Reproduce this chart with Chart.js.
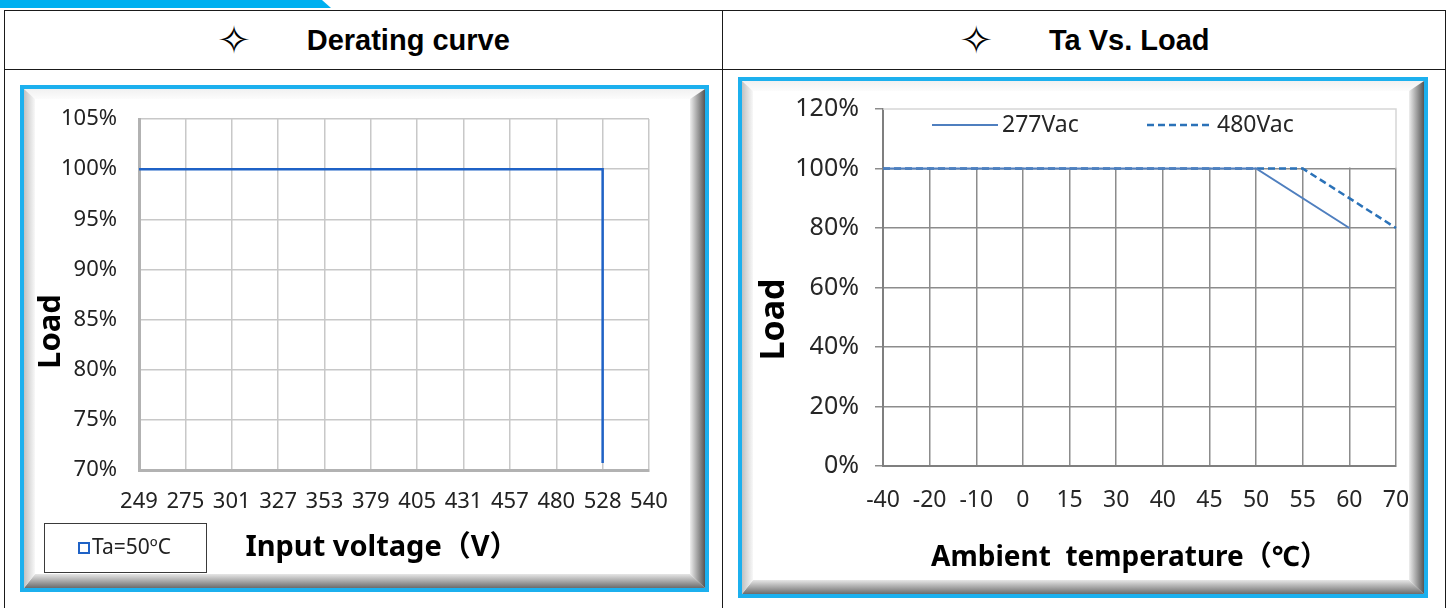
<!DOCTYPE html>
<html>
<head>
<meta charset="utf-8">
<script src="https://cdn.jsdelivr.net/npm/chart.js@4.4.0/dist/chart.umd.min.js"></script>
<style>
  html, body { margin: 0; padding: 0; background: #fff; }
  body { width: 1450px; height: 608px; position: relative; overflow: hidden; font-family: "Liberation Sans", Arial, sans-serif; }
  .tab { position: absolute; left: 0; top: 0; width: 331px; height: 8px; background: #00b0f0; clip-path: polygon(0 0, 322px 0, 331px 8px, 0 8px); }
  .tbl { position: absolute; left: 4px; top: 10px; width: 1442px; height: 640px; border: 1.5px solid #1a1a1a; box-sizing: border-box; }
  .hline { position: absolute; left: 4px; top: 69px; width: 1442px; border-top: 1.5px solid #1a1a1a; }
  .vline { position: absolute; left: 722px; top: 10px; height: 640px; border-left: 1.5px solid #1a1a1a; }
  .head { position: absolute; top: 11px; height: 58px; display: flex; align-items: center; justify-content: center; font-weight: bold; font-size: 29px; color: #000; }
  .head .star { font-family: "DejaVu Sans", sans-serif; font-weight: normal; font-size: 40px; line-height: 42px; margin-right: 56px; }
  .frame { position: absolute; border: 4px solid #1cb0ee; box-sizing: border-box; background: #fff; }
  .bev { position: absolute; }
  .bev.top { left: 0; top: 0; right: 0; height: 10px; background: linear-gradient(to bottom, #f1f1f1, #fcfcfc); clip-path: polygon(0 0, 100% 0, calc(100% - 15px) 100%, 11px 100%); }
  .bev.bottom { left: 0; bottom: 0; right: 0; height: 14px; background: linear-gradient(to bottom, #e6e6e6, #6c6c6c); clip-path: polygon(11px 0, calc(100% - 15px) 0, 100% 100%, 0 100%); }
  .bev.left { left: 0; top: 0; bottom: 0; width: 11px; background: linear-gradient(to right, #c2c2c2, #f8f8f8); clip-path: polygon(0 0, 100% 10px, 100% calc(100% - 14px), 0 100%); }
  .bev.right { right: 0; top: 0; bottom: 0; width: 15px; background: linear-gradient(to right, #eeeeee, #555555); clip-path: polygon(0 10px, 100% 0, 100% 100%, 0 calc(100% - 14px)); }
  .box { position: absolute; }
</style>
</head>
<body>
<div class="tab"></div>
<div class="tbl"></div>
<div class="hline"></div>
<div class="vline"></div>
<div class="head" style="left:4px;width:719px;"><span class="star">✧</span>Derating curve</div>
<div class="head" style="left:723px;width:723px;"><span class="star">✧</span>Ta Vs. Load</div>

<div class="frame" style="left:20px;top:85px;width:689px;height:507px;">
  <div class="bev top"></div><div class="bev bottom"></div><div class="bev left"></div><div class="bev right"></div>
</div>
<div class="frame" style="left:738px;top:77px;width:690px;height:521px;">
  <div class="bev top"></div><div class="bev bottom"></div><div class="bev left"></div><div class="bev right"></div>
</div>

<div class="box" style="left:30px;top:92px;width:660px;height:484px;"><canvas id="deratingChart"></canvas></div>
<div class="box" style="left:750px;top:85px;width:665px;height:500px;"><canvas id="taLoadChart"></canvas></div>

<script>
// Derating curve data
const voltageLabels = ['249', '275', '301', '327', '353', '379', '405', '431', '457', '480', '528', '540'];
const ta50Voltage = ['249', '528', '528'];
const ta50Load = [100, 100, 70.7];

// Ta vs. load data
const tempLabels = ['-40', '-20', '-10', '0', '15', '30', '40', '45', '50', '55', '60', '70'];
const vac277Temp = ['-40', '50', '60'];
const vac277Load = [100, 100, 80];
const vac480Temp = ['-40', '55', '70'];
const vac480Load = [100, 100, 80];

const tickFont = '"Noto Sans", "Open Sans", sans-serif';
const titleFont = '"Noto Sans", "Noto Sans CJK SC", sans-serif';

function toPoints(xs, ys) {
    return xs.map((x, i) => ({ x: x, y: ys[i] }));
}

// Keep the plot area where we put it: drop the label half-height padding
function fixWidth(w) {
    return (scale) => { scale.width = w; scale.paddingTop = 0; scale.paddingBottom = 0; };
}
function fixHeight(h) {
    return (scale) => { scale.height = h; scale.paddingLeft = 0; scale.paddingRight = 0; };
}

// Axis titles, placed like the Excel original (slightly off-centre)
const axisTitles = {
    id: 'axisTitles',
    afterDraw(chart, args, opts) {
        const ctx = chart.ctx;
        const area = chart.chartArea;
        ctx.save();
        ctx.fillStyle = '#000';
        ctx.textAlign = 'center';
        ctx.textBaseline = 'middle';
        // x title
        ctx.font = 'bold ' + opts.x.size + 'px ' + titleFont;
        ctx.fillText(opts.x.text, (area.left + area.right) / 2 + opts.x.dx, chart.height - opts.x.fromBottom);
        // y title, rotated
        ctx.translate(opts.y.x, (area.top + area.bottom) / 2 + opts.y.dy);
        ctx.rotate(-Math.PI / 2);
        ctx.font = 'bold ' + opts.y.size + 'px ' + titleFont;
        ctx.fillText(opts.y.text, 0, 0);
        ctx.restore();
    }
};

// Legend box drawn under the plot, bottom-left (left chart)
const boxLegend = {
    id: 'boxLegend',
    afterDraw(chart) {
        const ctx = chart.ctx;
        const ds = chart.data.datasets[0];
        const bx = 14, by = chart.height - 53, bw = 162, bh = 49;
        ctx.save();
        ctx.strokeStyle = '#3a3a3a';
        ctx.lineWidth = 1;
        ctx.strokeRect(bx + 0.5, by + 0.5, bw, bh);
        ctx.strokeStyle = ds.borderColor;
        ctx.lineWidth = 2;
        ctx.strokeRect(bx + 35, by + 20, 10, 10);
        ctx.fillStyle = '#222';
        ctx.font = '21px ' + tickFont;
        ctx.textBaseline = 'middle';
        ctx.fillText(ds.label, bx + 48, by + 25);
        ctx.restore();
    }
};

// Legend inside the top band of the plot (right chart)
const bandLegend = {
    id: 'bandLegend',
    beforeDatasetsDraw(chart) {
        const { ctx, chartArea } = chart;
        const yTop = chart.scales.y.getPixelForValue(120);
        const yBand = chart.scales.y.getPixelForValue(100);
        ctx.save();
        ctx.fillStyle = '#fff';
        ctx.fillRect(chartArea.left + 1, yTop - 1, chartArea.right - chartArea.left + 2, yBand - yTop);
        ctx.strokeStyle = '#d6d6d6';
        ctx.lineWidth = 1.5;
        ctx.beginPath();
        ctx.moveTo(chartArea.left, yTop);
        ctx.lineTo(chartArea.right, yTop);
        ctx.lineTo(chartArea.right, yBand);
        ctx.stroke();
        ctx.restore();
    },
    afterDatasetsDraw(chart) {
        const { ctx, chartArea } = chart;
        const y = chartArea.top + 16;
        ctx.save();
        chart.data.datasets.forEach((ds, i) => {
            const x0 = chartArea.left + 49 + i * 215;
            ctx.strokeStyle = ds.borderColor;
            ctx.lineWidth = ds.borderWidth;
            ctx.setLineDash(ds.borderDash || []);
            ctx.beginPath();
            ctx.moveTo(x0, y);
            ctx.lineTo(x0 + 66, y);
            ctx.stroke();
            ctx.setLineDash([]);
            ctx.fillStyle = '#262626';
            ctx.font = '23px ' + tickFont;
            ctx.textBaseline = 'middle';
            ctx.fillText(ds.label, x0 + 70, y);
        });
        ctx.restore();
    }
};

function initDeratingChart() {
    const ctx = document.getElementById('deratingChart');
    new Chart(ctx, {
        type: 'line',
        data: {
            labels: voltageLabels,
            datasets: [{
                label: 'Ta=50ºC',
                data: toPoints(ta50Voltage, ta50Load),
                borderColor: '#1f62c6',
                borderWidth: 2.5,
                pointRadius: 0,
                tension: 0,
                fill: false
            }]
        },
        options: {
            responsive: true,
            maintainAspectRatio: false,
            animation: false,
            layout: { padding: { top: 27, right: 41, left: 0, bottom: 0 } },
            plugins: {
                legend: { display: false },
                tooltip: { enabled: false },
                axisTitles: {
                    x: { text: 'Input voltage（V）', size: 29, dx: -12, fromBottom: 28 },
                    y: { text: 'Load', size: 31, x: 21, dy: 37 }
                }
            },
            scales: {
                x: {
                    type: 'category',
                    offset: false,
                    afterFit: fixHeight(106),
                    grid: { color: '#c8c8c8', lineWidth: 1.5, drawTicks: false, offset: false },
                    border: { color: '#b2b2b2', width: 3 },
                    ticks: {
                        color: '#222',
                        font: { family: tickFont, size: 22 },
                        padding: 19,
                        maxRotation: 0,
                        autoSkip: false
                    }
                },
                y: {
                    min: 70,
                    max: 105,
                    afterFit: fixWidth(109),
                    grid: { color: '#c8c8c8', lineWidth: 1.5, drawTicks: false },
                    border: { color: '#b2b2b2', width: 3 },
                    ticks: {
                        stepSize: 5,
                        color: '#222',
                        font: { family: tickFont, size: 22 },
                        padding: 22,
                        callback: (v) => v + '%'
                    }
                }
            }
        },
        plugins: [boxLegend, axisTitles]
    });
}

function initTaLoadChart() {
    const ctx = document.getElementById('taLoadChart');
    new Chart(ctx, {
        type: 'line',
        data: {
            labels: tempLabels,
            datasets: [{
                label: '277Vac',
                data: toPoints(vac277Temp, vac277Load),
                borderColor: '#4f7fbf',
                borderWidth: 2,
                pointRadius: 0,
                tension: 0,
                fill: false
            }, {
                label: '480Vac',
                data: toPoints(vac480Temp, vac480Load),
                borderColor: '#2b72b8',
                borderWidth: 2.5,
                borderDash: [7, 4],
                pointRadius: 0,
                tension: 0,
                fill: false
            }]
        },
        options: {
            responsive: true,
            maintainAspectRatio: false,
            animation: false,
            layout: { padding: { top: 24, right: 19, left: 0, bottom: 0 } },
            plugins: {
                legend: { display: false },
                tooltip: { enabled: false },
                axisTitles: {
                    x: { text: 'Ambient  temperature（℃）', size: 28, dx: -10, fromBottom: 27 },
                    y: { text: 'Load', size: 34, x: 24, dy: 32 }
                }
            },
            scales: {
                x: {
                    type: 'category',
                    offset: false,
                    afterFit: fixHeight(119),
                    grid: { color: '#8c8c8c', lineWidth: 1.5, drawTicks: false, offset: false },
                    border: { color: '#7f7f7f', width: 2 },
                    ticks: {
                        color: '#262626',
                        font: { family: tickFont, size: 23 },
                        padding: 21,
                        maxRotation: 0,
                        autoSkip: false
                    }
                },
                y: {
                    min: 0,
                    max: 120,
                    afterFit: fixWidth(133),
                    grid: { color: '#8c8c8c', lineWidth: 1.5, drawTicks: true, tickLength: 8 },
                    border: { color: '#7f7f7f', width: 2 },
                    ticks: {
                        stepSize: 20,
                        color: '#262626',
                        font: { family: tickFont, size: 25 },
                        padding: 16,
                        callback: (v) => v + '%'
                    }
                }
            }
        },
        plugins: [bandLegend, axisTitles]
    });
}

document.addEventListener('DOMContentLoaded', () => {
    initDeratingChart();
    initTaLoadChart();
});
</script>
</body>
</html>
